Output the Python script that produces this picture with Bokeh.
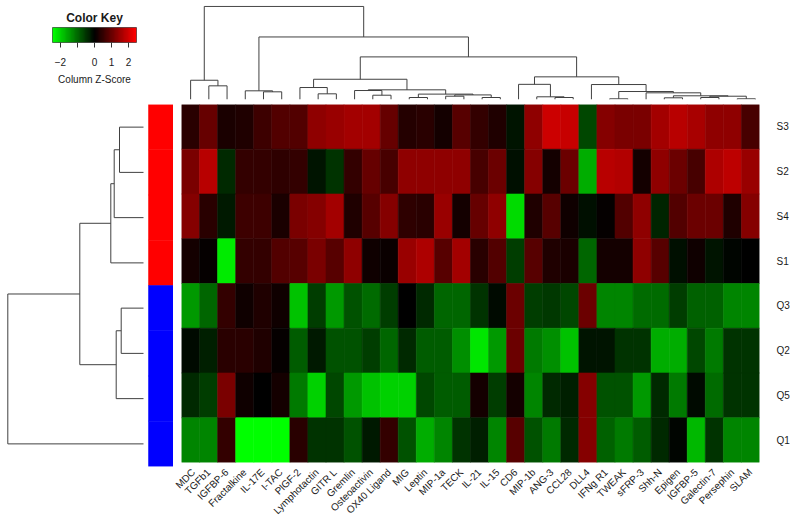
import numpy as np
from bokeh.plotting import figure
from bokeh.layouts import column, row
from bokeh.models import Range1d, FactorRange, LinearColorMapper, FixedTicker, ColumnDataSource
from bokeh.embed import file_html
from bokeh.resources import INLINE

# ---------------- data ----------------
columns = ["MDC", "TGFb1", "IGFBP-6", "Fractalkine", "IL-17E", "I-TAC", "PlGF-2",
           "Lymphotactin", "GITR L", "Gremlin", "Osteoactivin", "OX40 Ligand", "MIG",
           "Leptin", "MIP-1a", "TECK", "IL-21", "IL-15", "CD6", "MIP-1b", "ANG-3",
           "CCL28", "DLL4", "IFNg R1", "TWEAK", "sFRP-3", "Shh-N", "Epigen",
           "IGFBP-5", "Galectin-7", "Persephin", "SLAM"]
samples = ["S3", "S2", "S4", "S1", "Q3", "Q2", "Q5", "Q1"]
sample_group = ["S", "S", "S", "S", "Q", "Q", "Q", "Q"]
group_colors = {"S": "#FF0000", "Q": "#0000FF"}

z_S3 = [0.4, 1.0, 0.25, 0.3, 0.6, 0.8, 0.8, 1.35, 1.45, 1.55, 1.55, 1.0, 0.35, 0.4, 0.2, 0.85, 0.5,
        0.3, -0.2, 1.35, 1.95, 1.9, -0.7, 1.25, 1.15, 1.15, 1.55, 1.75, 1.6, 1.35, 1.35, 0.7]
z_S2 = [1.15, 1.75, -0.4, 0.5, 0.5, 0.45, 0.5, -0.2, -0.5, 0.5, 1.0, 0.7, 1.35, 1.35, 1.35, 1.35, 0.7,
        1.05, -0.15, 1.25, 0.2, 1.05, -1.65, 1.75, 1.7, 0.2, 1.35, 1.05, 0.7, 1.65, 1.8, 1.45]
z_S4 = [1.25, 0.4, -0.25, 0.6, 0.6, 0.25, 1.15, 1.25, 1.55, 0.3, 0.85, 1.25, 0.45, 0.4, 1.45, 0.2, 1.0,
        1.35, -2.1, 0.3, 0.85, 0.15, -0.15, 0.05, 0.8, 1.35, -0.35, 0.8, 1.05, 1.05, 0.3, 1.25]
z_S1 = [0.2, 0.05, -2.25, 0.5, 0.5, 0.8, 0.85, 1.15, 0.85, 1.35, 0.15, 0.1, 1.45, 1.65, 0.85, 1.55, 0.4,
        0.8, -0.6, 0.85, 0.3, 0.25, -1.0, 0.2, 0.2, 1.35, 0.85, -0.15, 0.15, -0.2, -0.05, 0.0]
z_Q3 = [-1.45, -1.0, 0.5, 0.15, 0.3, 0.15, -1.85, -0.6, -1.45, -0.8, -1.05, -0.6, 0.0, -0.4, -1.0, -1.0, -0.5,
        -0.1, 1.05, -0.6, -0.55, -0.7, 1.05, -1.25, -1.25, -1.05, -1.05, -0.6, -0.95, -0.95, -1.25, -1.25]
z_Q2 = [-0.1, -0.3, 0.4, 0.4, 0.3, 0.05, -0.9, -0.25, -0.8, -0.8, -0.6, -1.0, -0.4, -0.9, -0.9, -1.35, -2.2,
        -1.45, 1.05, -1.15, -1.35, -1.85, -0.2, -0.2, -0.5, -0.5, -1.65, -1.65, -0.7, -1.15, -0.5, -0.5]
z_Q5 = [-0.4, -0.6, 1.15, 0.15, 0.0, 0.2, -1.15, -2.0, -0.7, -1.45, -1.85, -2.0, -2.0, -0.7, -0.9, -0.9, 0.2,
        -0.6, 0.2, -1.25, -0.4, -0.3, 1.25, -0.8, -0.8, -1.45, -0.4, -1.15, -0.1, -1.05, -0.5, -0.5]
z_Q1 = [-1.25, -1.25, 0.5, -2.45, -2.45, -2.45, 0.4, -0.5, -0.5, -0.8, -0.25, 0.5, -0.8, -1.65, -1.25, -0.5, -0.3,
        -1.25, 0.85, -0.8, -1.15, -0.4, 1.25, -0.95, -1.15, -0.9, -0.4, -0.05, -1.75, -0.5, -1.25, -1.25]
z_rows = {"S3": z_S3, "S2": z_S2, "S4": z_S4, "S1": z_S1,
          "Q3": z_Q3, "Q2": z_Q2, "Q5": z_Q5, "Q1": z_Q1}

key_ticks = [-2, -1, 0, 1, 2]
key_limit = 2.47

# dendrogram merges: (left, right, height); internal nodes are "n<index>"
col_merges = [
    ("TGFb1", "IGFBP-6", 13.7), ("MDC", "n0", 19.3),
    ("IL-17E", "I-TAC", 7.7), ("Fractalkine", "n2", 8.7),
    ("Lymphotactin", "GITR L", 5.7), ("PlGF-2", "n4", 12.0),
    ("Osteoactivin", "OX40 Ligand", 4.3), ("Gremlin", "n6", 9.0),
    ("MIG", "Leptin", 2.0), ("MIP-1a", "TECK", 3.3), ("IL-21", "IL-15", 2.0),
    ("n9", "n10", 4.6), ("n8", "n11", 5.4), ("n7", "n12", 9.7), ("n5", "n13", 20.3),
    ("ANG-3", "CCL28", 2.0), ("MIP-1b", "n15", 2.7), ("CD6", "n16", 15.2),
    ("IFNg R1", "TWEAK", 0.7), ("Shh-N", "Epigen", 1.7), ("IGFBP-5", "Galectin-7", 2.0),
    ("Persephin", "SLAM", 0.7), ("n20", "n21", 3.3), ("n19", "n22", 3.7),
    ("sFRP-3", "n23", 6.7), ("n18", "n24", 8.0), ("DLL4", "n25", 15.0),
    ("n17", "n26", 22.7), ("n14", "n27", 42.7), ("n3", "n28", 62.7), ("n1", "n29", 93.3),
]
row_merges = [
    ("S3", "S2", 24.0), ("n0", "S4", 29.3), ("n1", "S1", 32.7),
    ("Q3", "Q2", 22.3), ("n3", "Q5", 27.3), ("n2", "n4", 63.7), ("n5", "Q1", 135.7),
]

# ---------------- helpers ----------------
def green_black_red(n):
    pal = []
    for i in range(n):
        t = i / (n - 1) * 2 - 1
        if t < 0:
            pal.append("#%02x%02x%02x" % (0, int(round(-t * 255)), 0))
        else:
            pal.append("#%02x%02x%02x" % (int(round(t * 255)), 0, 0))
    return pal


def dendro_segments(leaf_pos, merges):
    """returns leaf-axis positions (p0, p1) and height-axis values (h0, h1)"""
    pos = dict(leaf_pos)
    hgt = {k: 0.0 for k in leaf_pos}
    p0, h0, p1, h1 = [], [], [], []
    for i, (a, b, h) in enumerate(merges):
        pa, pb = pos[a], pos[b]
        p0 += [pa, pb, pa]; h0 += [hgt[a], hgt[b], h]
        p1 += [pa, pb, pb]; h1 += [h, h, h]
        pos["n%d" % i] = (pa + pb) / 2.0
        hgt["n%d" % i] = h
    return p0, h0, p1, h1


FONT = "Liberation Sans"
LINE = "#404040"
TEXT = "#1a1a1a"
BOTTOM = 57
mapper = LinearColorMapper(palette=green_black_red(101), low=-key_limit, high=key_limit)

# ---------------- color key ----------------
key = figure(width=181, height=104, x_range=Range1d(-key_limit, key_limit), y_range=Range1d(0, 1),
             y_axis_location=None, toolbar_location=None, output_backend="svg",
             min_border_left=52, min_border_right=45, min_border_top=27, min_border_bottom=62,
             title="Color Key")
key.image(image=[np.linspace(-key_limit, key_limit, 300).reshape(1, -1)], x=-key_limit, y=0,
          dw=2 * key_limit, dh=1, color_mapper=mapper)
key.title.align = "center"
key.title.text_font = FONT
key.title.text_font_size = "12px"
key.title.text_font_style = "bold"
key.title.text_color = TEXT
key.title.standoff = 6
key.xaxis.ticker = FixedTicker(ticks=key_ticks)
key.xaxis.major_label_overrides = {-1: ""}
key.xaxis.axis_line_color = None
key.xaxis.major_tick_out = 5
key.xaxis.major_tick_in = 0
key.xaxis.major_tick_line_color = "#333333"
key.xaxis.minor_tick_line_color = None
key.xaxis.major_label_text_font = FONT
key.xaxis.major_label_text_font_size = "10px"
key.xaxis.major_label_text_color = TEXT
key.xaxis.major_label_standoff = 10
key.xaxis.axis_label = "Column Z-Score"
key.xaxis.axis_label_text_font = FONT
key.xaxis.axis_label_text_font_size = "10px"
key.xaxis.axis_label_text_font_style = "normal"
key.xaxis.axis_label_text_color = TEXT
key.xaxis.axis_label_standoff = 5
key.grid.visible = False
key.outline_line_color = "#555555"

# ---------------- column dendrogram ----------------
col_leaf = {c: i + 0.5 for i, c in enumerate(columns)}
cp0, ch0, cp1, ch1 = dendro_segments(col_leaf, col_merges)
col_top = max(m[2] for m in col_merges) * 1.01
cden = figure(width=611, height=104, x_range=Range1d(0, len(columns)), y_range=Range1d(0, col_top),
              x_axis_location=None, y_axis_location=None, toolbar_location=None, output_backend="svg",
              min_border_left=0, min_border_right=28, min_border_top=5, min_border_bottom=5)
cden.segment(x0=cp0, y0=ch0, x1=cp1, y1=ch1, line_color=LINE, line_width=1)
cden.grid.visible = False
cden.outline_line_color = None

# ---------------- row dendrogram + side colors ----------------
n_rows = len(samples)
row_leaf = {s: n_rows - r - 0.5 for r, s in enumerate(samples)}
rp0, rh0, rp1, rh1 = dendro_segments(row_leaf, row_merges)
rden = figure(width=173, height=419, x_range=Range1d(143, -30), y_range=Range1d(0, n_rows),
              x_axis_location=None, y_axis_location=None, toolbar_location=None, output_backend="svg",
              min_border_left=0, min_border_right=0, min_border_top=0, min_border_bottom=BOTTOM)
rden.segment(x0=rh0, y0=rp0, x1=rh1, y1=rp1, line_color=LINE, line_width=1)
side = ColumnDataSource(dict(
    top=[n_rows - r for r in range(n_rows)],
    bottom=[n_rows - r - 1 for r in range(n_rows)],
    color=[group_colors[g] for g in sample_group]))
rden.quad(left=-5, right=-30, top="top", bottom="bottom", fill_color="color",
          line_color="color", line_width=0.5, source=side)
rden.grid.visible = False
rden.outline_line_color = None

# ---------------- heatmap ----------------
xs, ys, zs = [], [], []
for s in samples:
    for c, v in zip(columns, z_rows[s]):
        xs.append(c); ys.append(s); zs.append(v)
src = ColumnDataSource(dict(col=xs, row=ys, z=zs))

heat = figure(width=619, height=419, x_range=FactorRange(*columns),
              y_range=FactorRange(*reversed(samples)), y_axis_location="right",
              toolbar_location=None, output_backend="svg",
              min_border_left=8, min_border_right=28, min_border_top=0, min_border_bottom=BOTTOM)
heat.rect(x="col", y="row", width=1, height=1, source=src,
          fill_color={"field": "z", "transform": mapper},
          line_color={"field": "z", "transform": mapper}, line_width=0.6)
heat.grid.visible = False
heat.outline_line_color = None
for ax in (heat.xaxis, heat.yaxis):
    ax.axis_line_color = None
    ax.major_tick_line_color = None
    ax.minor_tick_line_color = None
    ax.major_label_text_font = FONT
    ax.major_label_text_color = TEXT
heat.xaxis.major_label_orientation = np.pi / 4
heat.xaxis.major_label_text_font_size = "10px"
heat.xaxis.major_label_standoff = 2
heat.yaxis.major_label_text_font_size = "10px"
heat.yaxis.major_label_standoff = 11

layout = column(row(column(key), column(cden)), row(column(rden), column(heat)))
open("out.html", "w").write(file_html(layout, INLINE))
